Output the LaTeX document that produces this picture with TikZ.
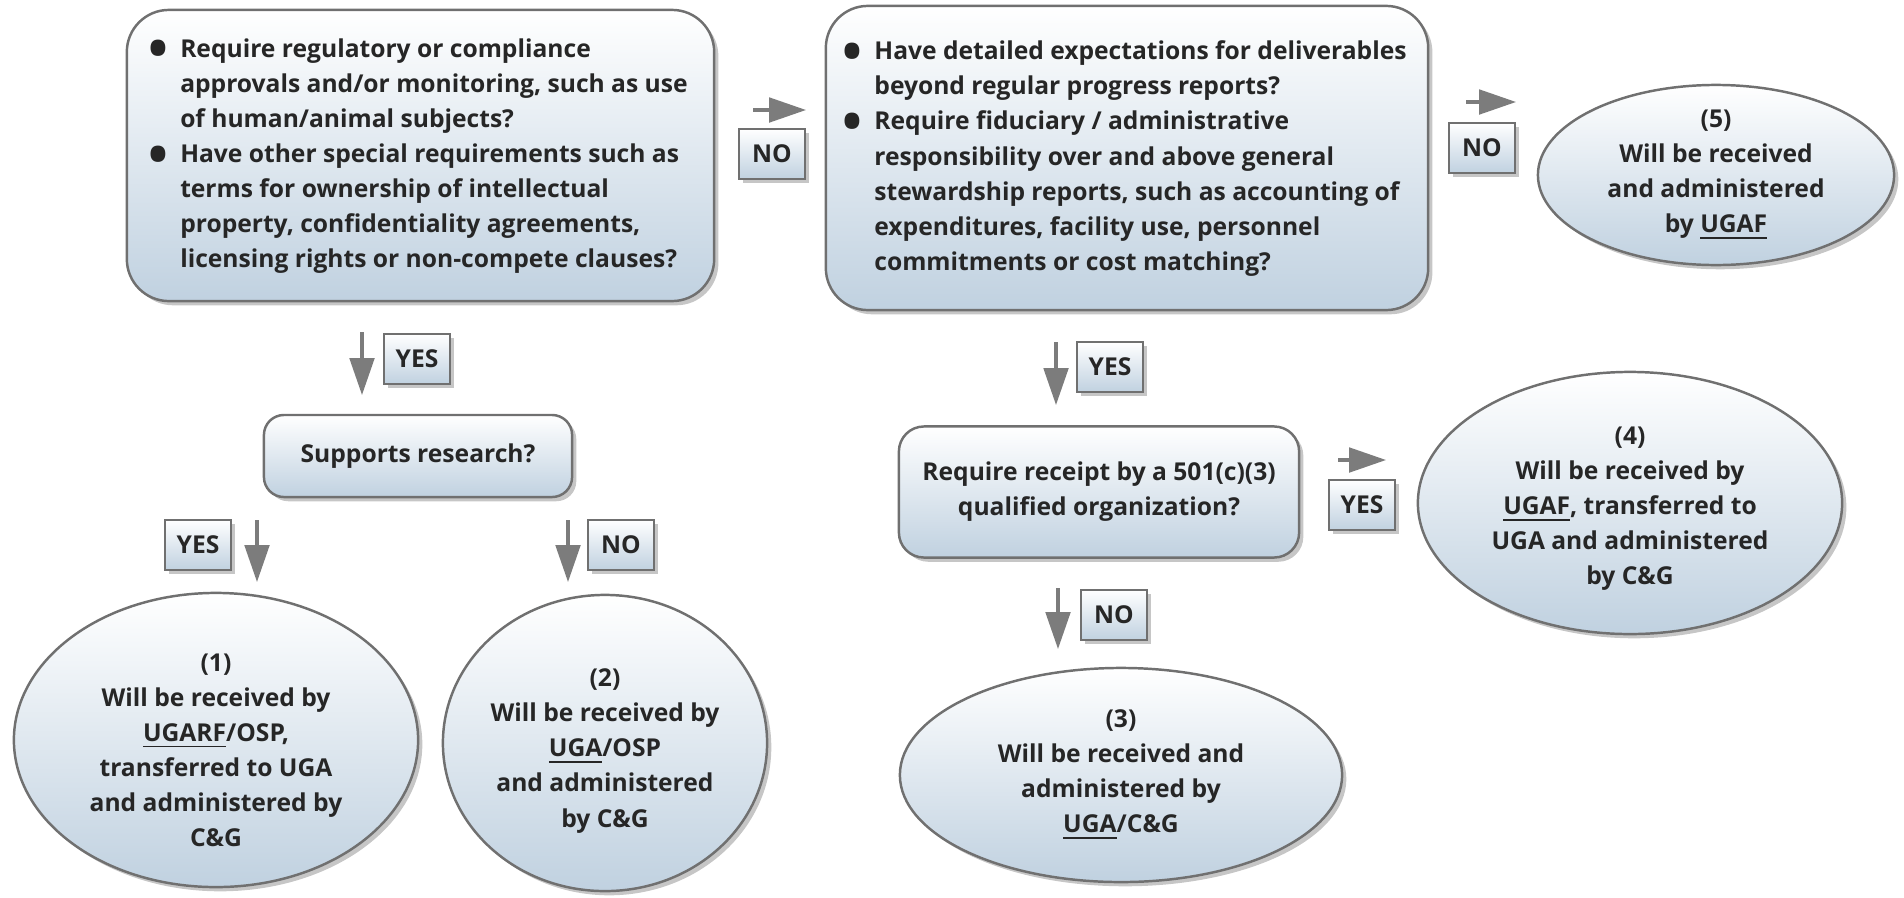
\documentclass[tikz,border=0pt]{standalone}
\usepackage{fontspec}
\setmainfont{Open Sans}
\usepackage{xcolor}
\usepackage{tikz}
\usetikzlibrary{arrows.meta,shapes.geometric,shadows}
\definecolor{edgegray}{HTML}{707070}
\definecolor{paleblue}{HTML}{C0D1E0}
\definecolor{inkgray}{HTML}{262626}
\definecolor{shaftgray}{HTML}{7C7C7C}
\newcommand{\bul}{\hspace*{-0.05cm}\raisebox{-3pt}{\fontsize{15pt}{0pt}\selectfont\textbullet}}
\tikzset{
  txt/.style={font=\fontsize{7pt}{9.96pt}\selectfont\bfseries,text=inkgray},
  glow/.style={draw=edgegray,line width=0.7pt,top color=white,bottom color=paleblue,
    drop shadow={shadow xshift=1.2pt,shadow yshift=-1.2pt,opacity=0.45}},
  qbox/.style={glow,txt,rounded corners=0.42cm,inner sep=0pt},
  outcome/.style={glow,ellipse,inner sep=0pt},
  etxt/.style={txt,align=center},
  tag/.style={glow,txt,minimum width=0.66cm,minimum height=0.5cm,inner sep=0pt},
  flow/.style={draw=shaftgray,line width=0.9pt,-{Triangle[length=10.5pt,width=7pt]}}
}

\begin{document}
\begin{tikzpicture}[x=0.01cm,y=-0.01cm]
\useasboundingbox (0,0) rectangle (1904,897);
\node[qbox,minimum width=5.87cm,minimum height=2.91cm] (qA) at (420.5,155.5) {%
\begin{tabular}{@{}p{0.27cm}@{}l@{}}
\bul & Require regulatory or compliance\\
 & approvals and/or monitoring, such as use\\
 & of human/animal subjects?\\
\bul & Have other special requirements such as\\
 & terms for ownership of intellectual\\
 & property, confidentiality agreements,\\
 & licensing rights or non-compete clauses?
\end{tabular}};
\node[qbox,minimum width=6.02cm,minimum height=3.04cm] (qB) at (1127,158) {%
\begin{tabular}{@{}p{0.27cm}@{}l@{}}
\bul & Have detailed expectations for deliverables\\
 & beyond regular progress reports?\\
\bul & Require fiduciary / administrative\\
 & responsibility over and above general\\
 & stewardship reports, such as accounting of\\
 & expenditures, facility use, personnel\\
 & commitments or cost matching?
\end{tabular}};
\node[qbox,rounded corners=0.2cm,minimum width=3.08cm,minimum height=0.82cm] (qR) at (418,456) {Supports research?};
\node[qbox,rounded corners=0.25cm,minimum width=4.0cm,minimum height=1.31cm,align=center] (qC) at (1099,492) {Require receipt by a 501(c)(3)\\qualified organization?};
\node[outcome,minimum width=4.04cm,minimum height=2.94cm] (e1) at (216,740) {};
\node[outcome,minimum width=3.24cm,minimum height=2.96cm] (e2) at (605,743) {};
\node[outcome,minimum width=4.42cm,minimum height=2.14cm] (e3) at (1121,775) {};
\node[outcome,minimum width=4.24cm,minimum height=2.62cm] (e4) at (1630,503) {};
\node[outcome,minimum width=3.56cm,minimum height=1.80cm] (e5) at (1716,175) {};
\node[etxt] (t1) at (216,750) {(1)\\Will be received by\\\underline{UGARF}/OSP,\\transferred to UGA\\and administered by\\C\&G};
\node[etxt] (t2) at (605,751) {(2)\\Will be received by\\\underline{UGA}/OSP\\and administered\\by C\&G};
\node[etxt] (t3) at (e3) {(3)\\Will be received and\\administered by\\\underline{UGA}/C\&G};
\node[etxt] (t4) at (1630,509) {(4)\\Will be received by\\\underline{UGAF}, transferred to\\UGA and administered\\by C\&G};
\node[etxt] (t5) at (e5) {(5)\\Will be received\\and administered\\by \underline{UGAF}};
\node[tag] (noAB) at (772,154) {NO};
\node[tag] (noB5) at (1482,148) {NO};
\node[tag] (yesA) at (417,359) {YES};
\node[tag] (yesR) at (198,545) {YES};
\node[tag] (noR) at (621,545) {NO};
\node[tag] (yesB) at (1110,367) {YES};
\node[tag] (yesC) at (1362,505) {YES};
\node[tag] (noC) at (1114,615) {NO};
\coordinate (ab0) at (753,110); \coordinate (ab1) at (806,110);
\coordinate (b50) at (1466,102); \coordinate (b51) at (1516,102);
\coordinate (a0) at (362,332); \coordinate (a1) at (362,395);
\coordinate (ry0) at (257,520); \coordinate (ry1) at (257,582);
\coordinate (rn0) at (568,520); \coordinate (rn1) at (568,582);
\coordinate (b0) at (1056,342); \coordinate (b1) at (1056,405);
\coordinate (c40) at (1338,460); \coordinate (c41) at (1386,460);
\coordinate (cn0) at (1058,588); \coordinate (cn1) at (1058,649);
\foreach \s/\e in {ab0/ab1,b50/b51,a0/a1,ry0/ry1,rn0/rn1,b0/b1,c40/c41,cn0/cn1}
  \draw[flow] (\s) -- (\e);
\end{tikzpicture}
\end{document}
